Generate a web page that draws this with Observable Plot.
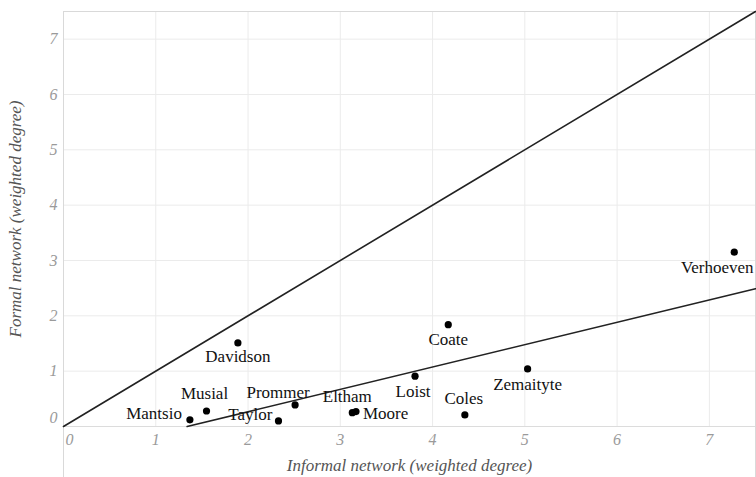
<!DOCTYPE html>
<html>
<head>
<meta charset="utf-8">
<script src="https://cdn.jsdelivr.net/npm/d3@7"></script>
<script src="https://cdn.jsdelivr.net/npm/@observablehq/plot@0.6"></script>
<style>
  html, body { margin: 0; padding: 0; background: #fff; }
  #chart svg { display: block; }
</style>
</head>
<body>
<div id="chart"></div>
<script>
// ---- data ----
const names    = ["Mantsio", "Musial", "Davidson", "Taylor", "Prommer", "Eltham", "Moore", "Loist", "Coate", "Coles", "Zemaityte", "Verhoeven"];
const informal = [1.37, 1.55, 1.89, 2.33, 2.51, 3.13, 3.17, 3.81, 4.17, 4.35, 5.03, 7.27];
const formal   = [0.12, 0.28, 1.51, 0.10, 0.39, 0.25, 0.27, 0.91, 1.84, 0.21, 1.04, 3.15];

// reference line y = x
const diagX = [0, 7.5];
const diagY = [0, 7.5];
// fitted line
const regX = [1.34, 7.5];
const regY = [0, 2.49];

const ticks = [1, 2, 3, 4, 5, 6, 7];
const zeroTick = [0];

const xTitle = "Informal network (weighted degree)";
const yTitle = "Formal network (weighted degree)";

// ---- label placement (styling only) ----
const labelStyle = {
  Mantsio:   {anchor: "end",    dx: -8,  dy: -6},
  Musial:    {anchor: "middle", dx: -2,  dy: -17},
  Davidson:  {anchor: "middle", dx: 0,   dy: 14},
  Taylor:    {anchor: "end",    dx: -6,  dy: -6},
  Prommer:   {anchor: "middle", dx: -17, dy: -12},
  Eltham:    {anchor: "middle", dx: -5,  dy: -16},
  Moore:     {anchor: "start",  dx: 7,   dy: 2},
  Loist:     {anchor: "middle", dx: -2,  dy: 15},
  Coate:     {anchor: "middle", dx: 0,   dy: 15},
  Coles:     {anchor: "middle", dx: -1,  dy: -16},
  Zemaityte: {anchor: "middle", dx: 0,   dy: 16},
  Verhoeven: {anchor: "middle", dx: -17, dy: 15}
};

const points = names.map((n, i) => ({name: n, x: informal[i], y: formal[i]}));
const diag = diagX.map((x, i) => ({x, y: diagY[i]}));
const reg = regX.map((x, i) => ({x, y: regY[i]}));

const serif = "'Liberation Serif', 'Times New Roman', serif";

const textMarks = points.map(p => {
  const s = labelStyle[p.name];
  return Plot.text([p], {
    x: "x", y: "y", text: "name",
    textAnchor: s.anchor, dx: s.dx, dy: s.dy,
    fill: "#111", fontSize: 17, fontFamily: serif
  });
});

const tickStyle = {tickSize: 0, fontSize: 16, fontStyle: "italic", fontFamily: serif, color: "#9a9a9a", tickFormat: d3.format("d"), label: null};

const chart = Plot.plot({
  width: 756,
  height: 477,
  marginLeft: 63,
  marginRight: 1,
  marginTop: 11,
  marginBottom: 51,
  style: {background: "#fff", fontFamily: serif},
  x: {domain: [0, 7.5]},
  y: {domain: [0, 7.5]},
  marks: [
    Plot.gridX(ticks, {stroke: "#ebebeb", strokeOpacity: 1}),
    Plot.gridY(ticks, {stroke: "#ebebeb", strokeOpacity: 1}),
    Plot.ruleY([0], {stroke: "#dcdcdc", strokeWidth: 1.2}),
    Plot.ruleX([0, 7.5], {stroke: "#d9d9d9", insetBottom: -51}),
    Plot.frame({anchor: "top", stroke: "#d9d9d9"}),
    Plot.axisX(ticks, {...tickStyle, tickPadding: 7}),
    Plot.axisX(zeroTick, {...tickStyle, tickPadding: 7, dx: 6}),
    Plot.axisY(ticks, {...tickStyle, tickPadding: 6}),
    Plot.axisY(zeroTick, {...tickStyle, tickPadding: 6, dy: -9}),
    Plot.text([xTitle], {
      frameAnchor: "bottom", dy: 39, text: d => d,
      textAnchor: "middle", lineAnchor: "middle",
      fontSize: 17, fontStyle: "italic", fontFamily: serif, fill: "#555"
    }),
    Plot.text([yTitle], {
      frameAnchor: "left", dx: -48, rotate: -90, text: d => d,
      textAnchor: "middle", lineAnchor: "middle",
      fontSize: 17, fontStyle: "italic", fontFamily: serif, fill: "#555"
    }),
    Plot.line(diag, {x: "x", y: "y", stroke: "#222", strokeWidth: 1.6}),
    Plot.line(reg, {x: "x", y: "y", stroke: "#222", strokeWidth: 1.6}),
    Plot.dot(points, {x: "x", y: "y", r: 3.6, fill: "#000", stroke: "none"}),
    ...textMarks
  ]
});

document.getElementById("chart").appendChild(chart);
</script>
</body>
</html>
